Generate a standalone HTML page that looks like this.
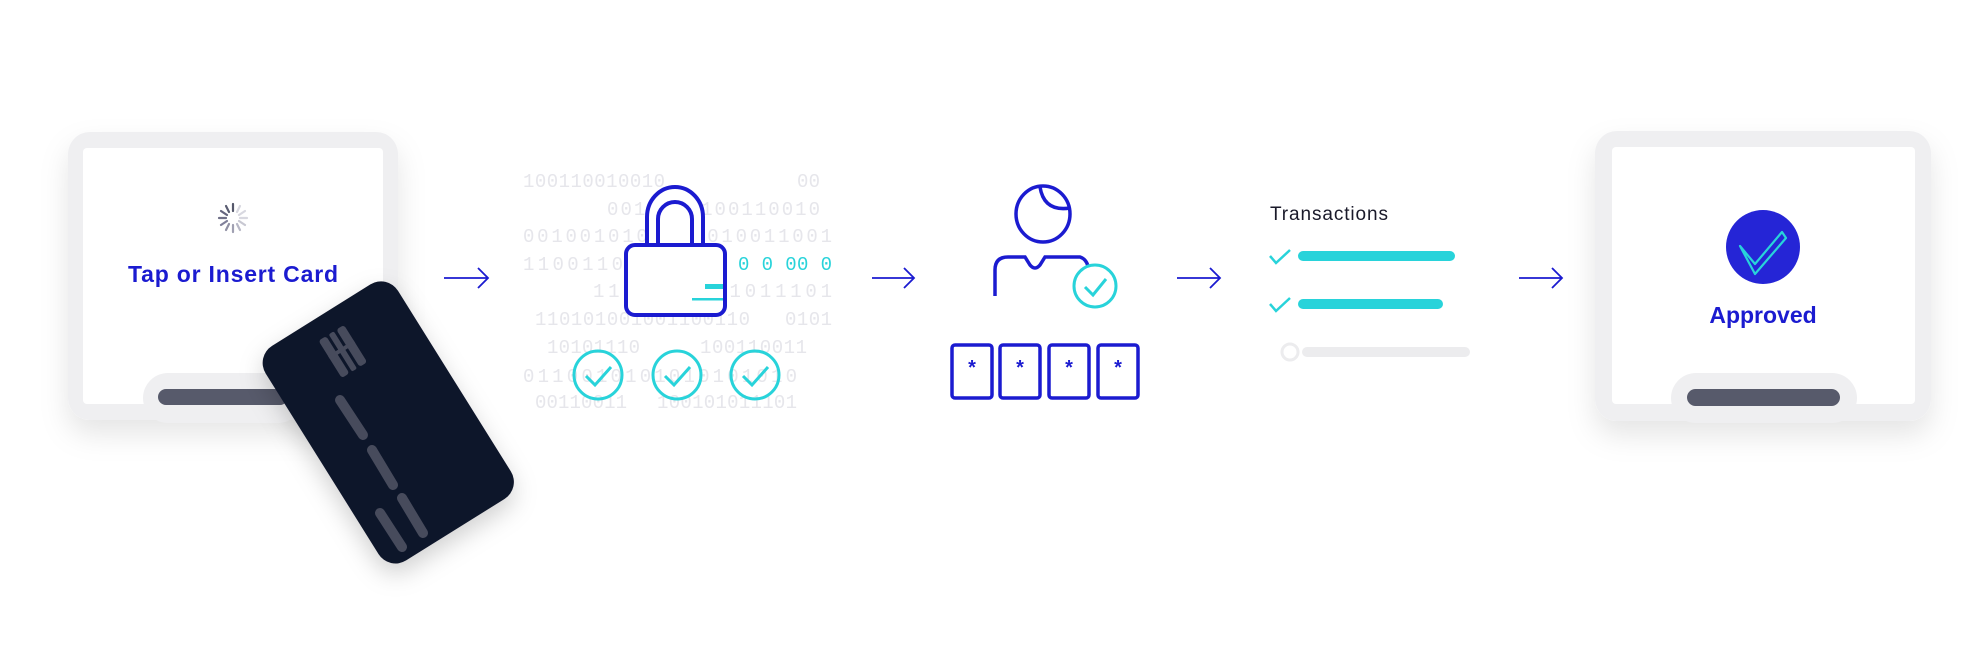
<!DOCTYPE html>
<html><head><meta charset="utf-8"><style>
html,body{margin:0;padding:0;background:#fff;}
svg{display:block;}
</style></head><body>
<svg width="1976" height="649" viewBox="0 0 1976 649" xmlns="http://www.w3.org/2000/svg">
<defs>
<filter id="sh" x="-30%" y="-30%" width="160%" height="170%">
<feDropShadow dx="0" dy="14" stdDeviation="14" flood-color="#000" flood-opacity="0.10"/>
</filter>
<filter id="sh2" x="-40%" y="-30%" width="180%" height="160%">
<feDropShadow dx="0" dy="10" stdDeviation="12" flood-color="#000" flood-opacity="0.18"/>
</filter>
</defs>

<!-- Left device -->
<g filter="url(#sh)">
<rect x="68" y="132" width="330" height="288" rx="22" fill="#efeff1"/>
</g>
<rect x="83" y="148" width="300" height="256" rx="4" fill="#fff"/>
<rect x="143" y="373" width="160" height="50" rx="25" fill="#efeff1"/>
<rect x="158" y="389" width="130" height="16" rx="8" fill="#575a6b"/>
<!-- spinner -->
<g stroke-width="2.2" stroke-linecap="round">
<line x1="233" y1="204" x2="233" y2="211" stroke="#55586b"/>
<line x1="240" y1="206" x2="237" y2="212" stroke="#d8d8e0"/>
<line x1="245" y1="211" x2="239" y2="215" stroke="#d8d8e0"/>
<line x1="247" y1="218" x2="240" y2="218" stroke="#d8d8e0"/>
<line x1="245" y1="225" x2="239" y2="221" stroke="#c8c8d2"/>
<line x1="240" y1="230" x2="237" y2="224" stroke="#b8b8c6"/>
<line x1="233" y1="232" x2="233" y2="225" stroke="#a0a0b2"/>
<line x1="226" y1="230" x2="229" y2="224" stroke="#9090a4"/>
<line x1="221" y1="225" x2="227" y2="221" stroke="#80809a"/>
<line x1="219" y1="218" x2="226" y2="218" stroke="#707088"/>
<line x1="221" y1="211" x2="227" y2="215" stroke="#65657e"/>
<line x1="226" y1="206" x2="229" y2="212" stroke="#5a5d72"/>
</g>
<text x="233" y="282" text-anchor="middle" font-family="Liberation Sans, sans-serif" font-weight="bold" font-size="23" fill="#1b1bd0" textLength="210">Tap or Insert Card</text>

<!-- Card -->
<g filter="url(#sh2)">
<rect x="310" y="296" width="156" height="253" rx="20" fill="#11152a" transform="rotate(-32 388 422)"/>
</g>
<g stroke="#474b5c" stroke-width="10" stroke-linecap="round" fill="none">
<line x1="340" y1="400" x2="363" y2="435"/>
<line x1="372" y1="450" x2="393" y2="485"/>
<line x1="380" y1="513" x2="402" y2="547"/>
<line x1="402" y1="498" x2="423" y2="533"/>
</g>
<g fill="#474b5c" transform="rotate(-32 342 352)">
<rect x="328" y="330" width="9" height="44" rx="3"/>
<rect x="340" y="330" width="6" height="44" rx="2"/>
<rect x="349" y="330" width="9" height="44" rx="3"/>
<rect x="328" y="348" width="30" height="4"/>
</g>

<!-- Arrows -->
<g stroke="#1b1bd0" stroke-width="1.8" fill="none">
<path d="M444 278 H488 M478 268 L488 278 L478 288"/>
<path d="M872 278 H914 M904 268 L914 278 L904 288"/>
<path d="M1177 278 H1220 M1210 268 L1220 278 L1210 288"/>
<path d="M1519 278 H1562 M1552 268 L1562 278 L1552 288"/>
</g>

<!-- Binary -->
<g font-family="Liberation Mono, monospace" font-size="19" fill="#e6e6eb">
<text x="523" y="187" textLength="142">100110010010</text>
<text x="797" y="187" textLength="23">00</text>
<text x="607" y="215" textLength="213">0010010100110010</text>
<text x="523" y="242" textLength="309">0010010101101010011001</text>
<text x="523" y="270" textLength="100">1100110</text>
<text x="593" y="297" textLength="239">1101010101011101</text>
<text x="535" y="325" textLength="215">110101001001100110</text>
<text x="785" y="325" textLength="47">0101</text>
<text x="547" y="353" textLength="93">10101110</text>
<text x="700" y="353" textLength="107">100110011</text>
<text x="523" y="382" textLength="274">0110010101010101010</text>
<text x="535" y="408" textLength="92">00110011</text>
<text x="657" y="408" textLength="140">100101011101</text>
</g>
<text x="738" y="270" font-family="Liberation Mono, monospace" font-size="19" fill="#28d3da" textLength="94" xml:space="preserve">0 0 00 0</text>

<!-- Lock -->
<path d="M647 245 V217 A28 30 0 0 1 703 217 V245" fill="#fff" stroke="#1b1bd0" stroke-width="4"/>
<path d="M658 245 V219 A17 17 0 0 1 692 219 V245" fill="none" stroke="#1b1bd0" stroke-width="4"/>
<rect x="626" y="245" width="99" height="70" rx="9" fill="#fff" stroke="#1b1bd0" stroke-width="4"/>
<rect x="705" y="284" width="18" height="5" fill="#28d3da"/>
<rect x="692" y="298" width="31" height="2.5" fill="#28d3da"/>

<!-- checks -->
<g fill="none" stroke="#28d3da" stroke-width="3">
<circle cx="598" cy="375" r="24"/>
<circle cx="677" cy="375" r="24"/>
<circle cx="755" cy="375" r="24"/>
<path d="M586 376 L595 385 L611 367"/>
<path d="M665 376 L674 385 L690 367"/>
<path d="M743 376 L752 385 L768 367"/>
</g>

<!-- Person -->
<g fill="none" stroke="#1b1bd0" stroke-width="3.5">
<ellipse cx="1043" cy="214" rx="27" ry="28"/>
<path d="M1040 187 Q1044 212 1070 208"/>
<path d="M995 296 V270 Q995 257 1008 257 H1025 L1030 265 Q1035 271 1040 265 L1045 257 H1080 Q1086 259 1088 266"/>
<rect x="952" y="345" width="40" height="53" rx="3"/>
<rect x="1000" y="345" width="40" height="53" rx="3"/>
<rect x="1049" y="345" width="40" height="53" rx="3"/>
<rect x="1098" y="345" width="40" height="53" rx="3"/>
</g>
<circle cx="1095" cy="286" r="21" fill="#fff" stroke="#28d3da" stroke-width="3"/>
<path d="M1085 287 L1093 295 L1106 279" fill="none" stroke="#28d3da" stroke-width="3"/>
<g font-family="Liberation Sans, sans-serif" font-size="20" fill="#1b1bd0" text-anchor="middle" font-weight="bold">
<text x="972" y="374">*</text><text x="1020" y="374">*</text><text x="1069" y="374">*</text><text x="1118" y="374">*</text>
</g>

<!-- Transactions -->
<text x="1270" y="220" font-family="Liberation Sans, sans-serif" font-size="19" fill="#1a1a2a" textLength="118">Transactions</text>
<g fill="none" stroke="#28d3da" stroke-width="2.5">
<path d="M1270 256 L1276 263 L1290 250"/>
<path d="M1270 304 L1276 311 L1290 298"/>
</g>
<rect x="1298" y="251" width="157" height="10" rx="5" fill="#28d3da"/>
<rect x="1298" y="299" width="145" height="10" rx="5" fill="#28d3da"/>
<circle cx="1290" cy="352" r="8" fill="#fff" stroke="#ececee" stroke-width="3"/>
<rect x="1302" y="347" width="168" height="10" rx="5" fill="#ececee"/>

<!-- Right device -->
<g filter="url(#sh)">
<rect x="1595" y="131" width="336" height="290" rx="22" fill="#efeff1"/>
</g>
<rect x="1612" y="147" width="303" height="257" rx="4" fill="#fff"/>
<rect x="1671" y="373" width="186" height="50" rx="25" fill="#efeff1"/>
<rect x="1687" y="389" width="153" height="17" rx="8.5" fill="#575a6b"/>
<circle cx="1763" cy="247" r="37" fill="#2525d6"/>
<path d="M1740 246 L1755 264 L1782 232 L1786 238 L1755 274 Z" fill="none" stroke="#28d3da" stroke-width="2.2" stroke-linejoin="round"/>
<text x="1763" y="323" text-anchor="middle" font-family="Liberation Sans, sans-serif" font-weight="bold" font-size="23" fill="#1b1bd0">Approved</text>
</svg>
</body></html>
